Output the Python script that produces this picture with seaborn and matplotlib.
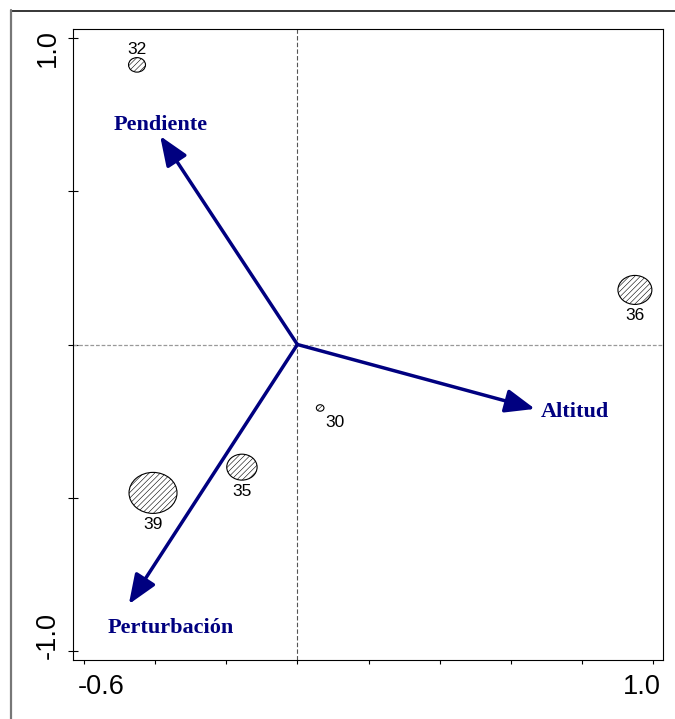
import numpy as np
import pandas as pd
import matplotlib
matplotlib.use("Agg")
import matplotlib.pyplot as plt
from matplotlib.lines import Line2D
from matplotlib.markers import MarkerStyle
from matplotlib.path import Path
from matplotlib.transforms import Affine2D
import seaborn as sns

# Site scores on the first two ordination axes
sitios = ["30", "32", "35", "36", "39"]
eje1 = [0.064, -0.451, -0.156, 0.949, -0.406]
eje2 = [-0.207, 0.912, -0.400, 0.178, -0.484]
abundancia = [2.5, 12.5, 40, 50, 100]  # relative abundance, % of the largest

# Environmental variables shown as biplot arrows
variables = ["Pendiente", "Altitud", "Perturbación"]
var_eje1 = [-0.386, 0.668, -0.474]
var_eje2 = [0.680, -0.210, -0.847]

# Axis ticks and the few that carry a label
x_ticks = [-0.6, -0.4, -0.2, 0.0, 0.2, 0.4, 0.6, 0.8, 1.0]
y_ticks = [-1.0, -0.5, 0.0, 0.5, 1.0]
x_labels = ["-0.6", "1.0"]
x_label_at = [-0.6, 1.0]
y_labels = ["1.0", "-1.0"]
y_label_at = [1.0, -1.0]

# ---------------------------------------------------------------- style
sns.set_theme(style="white")
plt.rcParams["font.family"] = ["Liberation Sans", "DejaVu Sans"]
plt.rcParams["hatch.linewidth"] = 0.4

DPI = 100
PT = 72 / DPI          # points per pixel
NAVY = "#000080"
MAX_S = 1194           # marker area (pt^2) for the largest bubble
ASPECT = 1.17          # bubbles are slightly wider than tall

fig = plt.figure(figsize=(6.75, 7.19), dpi=DPI)
ax = fig.add_axes([73 / 675, 59 / 719, 590 / 675, 631 / 719])
ax.set_xlim(-0.631, 1.028)
ax.set_ylim(-1.029, 1.029)

# origin reference lines
ax.axvline(0, color="#555555", lw=0.8, ls=(0, (4, 2)), zorder=1)
ax.axhline(0, color="#999999", lw=0.9, ls=(0, (3, 1.5)), zorder=1)

# ---------------------------------------------------------------- sites
ellipse = MarkerStyle(Affine2D().scale(ASPECT, 1.0).transform_path(Path.unit_circle()))
df = pd.DataFrame({"sitio": sitios, "eje1": eje1, "eje2": eje2, "abund": abundancia})
sns.scatterplot(data=df, x="eje1", y="eje2", size="abund", sizes=(0, MAX_S),
                size_norm=(0, 100), marker=ellipse, color="white",
                edgecolor="black", linewidth=0.8, hatch="//////",
                legend=False, ax=ax, zorder=3)

# where each site number sits relative to its bubble
label_side = {"30": "below-right", "32": "above"}
for s, x, y, a in zip(sitios, eje1, eje2, abundancia):
    ry = np.sqrt(MAX_S * a / 100) / PT / 2 / ASPECT
    gap = ry + 10
    side = label_side.get(s, "below")
    if side == "above":
        dx, dy = 0, gap
    elif side == "below-right":
        dx, dy = 15, -gap
    else:
        dx, dy = 0, -gap
    ax.annotate(s, (x, y), xytext=(dx * PT, (dy - 6) * PT), textcoords="offset points",
                ha="center", va="baseline", fontsize=12.5, color="black", zorder=5)

# ---------------------------------------------------------------- arrows
var_text = {"Pendiente": (1, 6, "center"),
            "Altitud": (6, -7.7, "left"),
            "Perturbación": (42, -29, "center")}
for name, x, y in zip(variables, var_eje1, var_eje2):
    ax.annotate("", xy=(x, y), xytext=(0, 0),
                arrowprops=dict(arrowstyle="-|>,head_length=0.5,head_width=0.2",
                                mutation_scale=36, lw=2.5, color=NAVY,
                                shrinkA=0, shrinkB=0), zorder=4)
    dx, dy, ha = var_text[name]
    ax.annotate(name, (x, y), xytext=(dx * PT, dy * PT), textcoords="offset points",
                ha=ha, va="baseline", fontsize=16, fontweight="bold",
                family=["Liberation Serif", "DejaVu Serif"], color=NAVY, zorder=5)

# ---------------------------------------------------------------- axes
ax.set_xlabel("")
ax.set_ylabel("")
ax.set_xticks(x_ticks)
ax.set_yticks(y_ticks)
ax.set_xticklabels([])
ax.set_yticklabels([])
ax.tick_params(axis="x", bottom=True, direction="out", length=3, width=0.8, color="black")
ax.tick_params(axis="y", left=True, direction="inout", length=6.5, width=0.8, color="black")
for sp in ax.spines.values():
    sp.set_color("black")
    sp.set_linewidth(0.8)

for lab, v, dx in zip(x_labels, x_label_at, [17, -11.5]):
    ax.annotate(lab, xy=(v, 0), xycoords=("data", "axes fraction"),
                xytext=(dx * PT, -34 * PT), textcoords="offset points",
                ha="center", va="baseline", fontsize=19.5, color="black",
                annotation_clip=False)
for lab, v, dy in zip(y_labels, y_label_at, [-10.5, 15.5]):
    ax.annotate(lab, xy=(0, v), xycoords=("axes fraction", "data"),
                xytext=(-18 * PT, dy * PT), textcoords="offset points",
                ha="center", va="baseline", rotation=90, rotation_mode="anchor",
                fontsize=19.5, color="black", annotation_clip=False)

# page frame around the figure
fig.add_artist(Line2D([11 / 675, 1.0], [1 - 10.5 / 719] * 2, transform=fig.transFigure,
                      color="black", lw=1.1))
fig.add_artist(Line2D([11 / 675] * 2, [0, 1 - 10 / 719], transform=fig.transFigure,
                      color="#777777", lw=1.6))

fig.savefig("out.png", dpi=DPI)
